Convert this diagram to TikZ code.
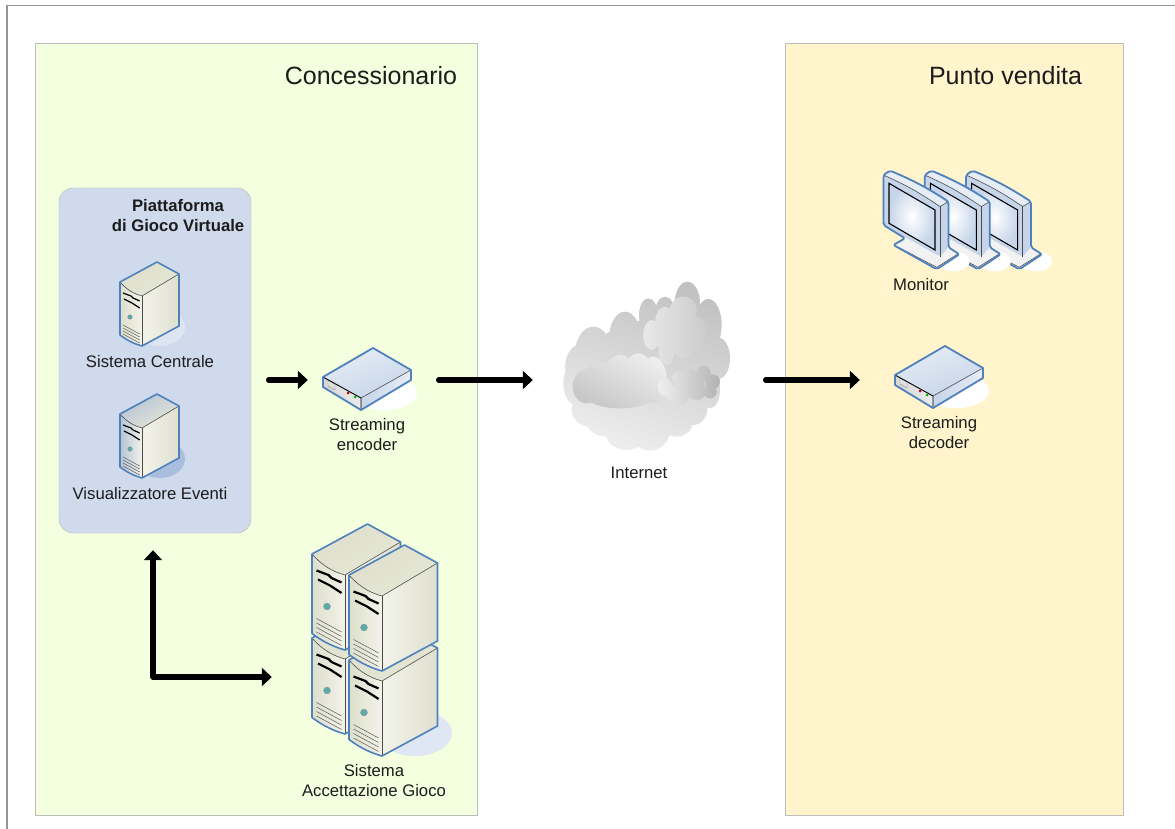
\documentclass[tikz, border = 0pt]{standalone}
\usepackage{fontspec}
\setmainfont{Liberation Sans}
\usetikzlibrary{arrows.meta, shadings}
\definecolor{concgreen}{HTML}{F3FFDE}
\definecolor{shopyellow}{HTML}{FFF4CC}
\definecolor{platblue}{HTML}{CFDAEC}
\definecolor{edgeblue}{HTML}{4F81BD}
\definecolor{labelgray}{HTML}{1C1C1C}
\definecolor{towerfront}{HTML}{F3F3EA}
\definecolor{towertop}{HTML}{DDDFCB}
\definecolor{towertopend}{HTML}{E6E7D6}
\definecolor{towerside}{HTML}{DFE0CF}
\definecolor{viewertint}{HTML}{B4C3D6}
\definecolor{steelblue}{HTML}{C6D5E9}
\definecolor{steelpale}{HTML}{E6EDF5}
\definecolor{centralshadow}{HTML}{DDE5F2}
\definecolor{viewershadow}{HTML}{A9BEDF}
\definecolor{stackshadow}{HTML}{DFE6F4}
\tikzset {
    panel/.style = {draw = black!26, line width = 1pt, inner sep = 0pt},
    platform/.style = {
        draw = black!28, fill = platblue, rounded corners = 14pt, inner sep = 0pt,
        minimum width = 192pt, minimum height = 345pt
    },
    icon/.style = {inner sep = 0pt, minimum width = 88pt, minimum height = 62pt},
    flow/.style = {
        line width = 5.4pt, line cap = round, line join = round,
        ->, >={Triangle[length = 10pt, width = 18pt]}
    },
    title/.style = {font = \fontsize{25}{30}\selectfont, text = labelgray},
    tag/.style = {font = \fontsize{16.7}{20}\selectfont, text = labelgray, align = center},
    bold tag/.style = {tag, font = \fontsize{16.7}{20}\selectfont\bfseries},
    outline/.style = {draw = edgeblue, line width = 1.6pt, line join = round},
    inner edge/.style = {draw = black!70, line width = 0.6pt},
    slot/.style = {draw = black, line width = 1.2pt},
    big/.style = {scale = 1.5, slot/.append style = {line width = 2.2pt}},
    tower/.pic = {
        \shade [left color = #1, right color = towerfront] (-22, -64) .. controls (-14, -55) and (-7, -52) .. (0, -50) -- (0, 0) .. controls (-7, -2) and (-14, -5) .. (-22, -11) -- cycle;
        \shade [left color = #1, right color = towertopend, shading angle = 30] (-22, -64) -- (15, -84) -- (37, -72) -- (0, -50) .. controls (-7, -52) and (-14, -55) .. (-22, -64) -- cycle;
        \shade [left color = towerfront, right color = towerside] (0, -50) -- (37, -72) -- (37, -20) -- (0, 0) -- cycle;
        \draw [inner edge] (-22, -64) .. controls (-14, -55) and (-7, -52) .. (0, -50) -- (37, -72);
        \draw [inner edge] (0, -50) -- (0, 0);
        \draw [slot] (-19, -53) -- (-11, -50) -- (-9, -48) -- (-2.3, -45);
        \draw [slot] (-18, -47) -- (-10, -43) -- (-2.3, -38);
        \fill [teal!65!white, draw = black!45, line width = 0.3pt] (-12, -29) circle [radius = 2.3];
        \foreach \i in {0, 1, 2, 3} {
            \draw [black!65, line width = 0.5pt] (-19, -21 + 3 * \i) -- (-2.3, -12 + 3 * \i);
        }
        \draw [outline] (-22, -64) -- (15, -84) -- (37, -72) -- (37, -20) -- (0, 0) .. controls (-7, -2) and (-14, -5) .. (-22, -11) -- cycle;
    },
    flatbox/.pic = {
        \fill [white] (23, -17) ellipse [x radius = 33, y radius = 17];
        \shade [top color = steelpale, bottom color = steelblue, shading angle = 20] (-38, -33) -- (12, -62) -- (50, -40) -- (0, -12) -- cycle;
        \shade [left color = black!16, right color = black!8] (-38, -33) -- (0, -12) -- (0, 0) -- (-38, -23) -- cycle;
        \shade [left color = steelblue, right color = steelpale] (0, -12) -- (50, -40) -- (50, -30) -- (0, 0) -- cycle;
        \draw [black!45, fill = black!12, line width = 0.4pt] (-33, -30) -- (-26, -26) -- (-26, -20) -- (-33, -24) -- cycle;
        \fill [red!75!black] (-13, -17) circle [radius = 1.5];
        \fill [green!70!black] (-6, -13) circle [radius = 1.5];
        \draw [black, line width = 0.9pt] (-38, -33) -- (0, -12) -- (0, 0);
        \draw [inner edge] (0, -12) -- (50, -40);
        \draw [outline, line width = 1.8pt] (-38, -33) -- (12, -62) -- (50, -40) -- (50, -30) -- (0, 0) -- (-38, -23) -- cycle;
    },
    screen/.pic = {
        \fill [white] (17, -8) ellipse [x radius = 16, y radius = 10];
        \fill [black!5] (-43.3, -24.3) -- (-31.7, -31) -- (11.7, -22) -- (22.7, -15) -- (0, 0) -- cycle;
        \fill [steelblue, rounded corners = 2pt] (-53.3, -94.3) -- (-46.7, -98.7) to [bend left = 5] (11.7, -67.7) -- (11.7, -22) -- (3.3, -12.7) -- (-53.3, -44.3) -- cycle;
        \fill [steelpale, rounded corners = 2pt] (-53.3, -94.3) -- (-46.7, -98.7) to [bend left = 5] (11.7, -67.7) -- (3.3, -62.7) to [bend right = 5] cycle;
        \draw [inner edge] (-53.3, -94.3) to [bend left = 5] (3.3, -62.7) -- (11.7, -67.7);
        \draw [inner edge] (3.3, -62.7) -- (3.3, -12.7);
        \draw [inner edge] (-38.3, -22) -- (0, -2) -- (20.7, -15);
        \shade [inner color = white, outer color = steelblue] (-47.7, -86) -- (-1.7, -59.3) -- (-1.7, -19.3) -- (-47.7, -46) -- cycle;
        \draw [black, line width = 1.1pt] (-47.7, -86) -- (-1.7, -59.3) -- (-1.7, -19.3) -- (-47.7, -46) -- cycle;
        \draw [outline, line width = 1.8pt, rounded corners = 2pt] (-53.3, -94.3) -- (-46.7, -98.7) to [bend left = 5] (11.7, -67.7) -- (11.7, -22) -- (22.7, -15) -- (0, 0) -- (-43.3, -24.3) -- (-31.7, -31) -- (-53.3, -44.3) -- cycle;
    },
    cloud/.pic = {
        % outer lobes
        \shade [top color = black!24, bottom color = black!7, shading angle = -20]
            \foreach \x/\y/\a/\b in {
                130/250/55/80, 225/205/48/80, 295/135/28/50, 345/130/30/50, 412/100/38/65,
                475/165/40/78, 505/265/35/62, 480/360/30/55, 430/415/42/50, 380/450/50/50,
                300/480/60/62, 230/490/62/50, 170/450/62/50, 120/420/55/50, 78/340/38/65,
                100/290/55/70, 300/300/190/150
            } {(\x, \y) ellipse [x radius = \a, y radius = \b]};
        % lower body
        \shade [left color = black!7, right color = black!22, shading angle = -30]
            \foreach \x/\y/\a/\b in {
                110/350/42/50, 150/320/50/45, 210/310/45/55, 265/290/35/40, 310/330/40/70,
                210/370/110/45
            } {(\x, \y) ellipse [x radius = \a, y radius = \b]};
        % upper right puff
        \shade [left color = black!9, right color = black!20]
            \foreach \x/\y/\a/\b in {
                305/195/25/45, 345/160/30/50, 400/120/40/40, 440/190/28/50, 400/230/30/35,
                350/240/25/45, 375/190/70/60
            } {(\x, \y) ellipse [x radius = \a, y radius = \b]};
        % small puff
        \shade [left color = black!6, right color = black!30]
            \foreach \x/\y/\a/\b in {
                345/352/22/26, 370/370/22/24, 395/375/22/28, 385/325/18/20, 420/315/20/20,
                460/310/22/24, 488/335/22/22, 480/365/20/20, 440/365/28/25, 420/345/45/25
            } {(\x, \y) ellipse [x radius = \a, y radius = \b]};
    }
}

\begin{document}
\begin{tikzpicture}[x = 1pt, y = -1pt]
    \useasboundingbox (0, 0) rectangle (1175, 829);
    \draw [black!42, line width = 1.2pt] (1175, 5.5) -- (7, 5.5) -- (7, 829);

    \node (conc) [panel, fill = concgreen, minimum width = 442pt, minimum height = 771pt] at (256, 429.5) {};
    \node (shop) [panel, fill = shopyellow, minimum width = 338pt, minimum height = 771pt] at (954, 429.5) {};
    \node (conctitle) [title] at (371, 76) {Concessionario};
    \node (shoptitle) [title] at (1005.5, 76) {Punto vendita};

    \node (plat) [platform] at (155, 360.5) {};
    \node (plattitle) [bold tag] at (178, 216) {Piattaforma\\di Gioco Virtuale};

    % towers
    \fill [centralshadow] (160, 327) ellipse [x radius = 25, y radius = 19];
    \pic at (142, 346) {tower = towertop};
    \node (central) [tag] at (150, 362) {Sistema Centrale};
    \fill [viewershadow] (160, 459) ellipse [x radius = 25, y radius = 19];
    \pic at (142, 478) {tower = viewertint};
    \node (viewer) [tag] at (150, 494) {Visualizzatore Eventi};

    % stack
    \fill [stackshadow] (415, 733) ellipse [x radius = 37, y radius = 23];
    \node (stack) [inner sep = 0pt, minimum width = 126pt, minimum height = 232pt] at (373, 640) {};
    \pic [big] at (345, 734) {tower = towertop};
    \pic [big] at (345, 650) {tower = towertop};
    \pic [big] at (382, 756) {tower = towertop};
    \pic [big] at (382, 671) {tower = towertop};
    \node (accept) [tag] at (374, 781) {Sistema\\Accettazione Gioco};

    % encoder and decoder
    \node (enc) [icon] at (367, 380) {};
    \pic at (361, 410) {flatbox};
    \node (enclabel) [tag] at (367, 435) {Streaming\\encoder};
    \node (dec) [icon] at (939, 380) {};
    \pic at (933, 408) {flatbox};
    \node (declabel) [tag] at (939, 433) {Streaming\\decoder};

    % cloud
    \node (web) [inner sep = 0pt, minimum width = 168pt, minimum height = 172pt] at (646, 366) {};
    \pic [scale = 1 / 3] at (550, 270) {cloud};
    \node (weblabel) [tag] at (639, 473) {Internet};

    % monitors
    \foreach \x in {1019.3, 978, 936.7} {
        \pic at (\x, 269.3) {screen};
    }
    \node (monitor) [tag] at (921, 285) {Monitor};

    % arrows
    \coordinate (elbow) at (153, 677);
    \draw [flow, shorten < = 17.5pt, shorten > = 15pt] (plat.east |- enc.west) -- (enc.west);
    \draw [flow, shorten < = 27.5pt, shorten > = 29pt] (enc.east) -- (enc.east -| web.west);
    \draw [flow, shorten < = 35.5pt, shorten > = 35pt] (web.east |- dec.west) -- (dec.west);
    \draw [flow, <->, shorten < = 17pt, shorten > = 38pt] (plat.south -| elbow) -- (elbow) -- (elbow -| stack.west);
\end{tikzpicture}
\end{document}
